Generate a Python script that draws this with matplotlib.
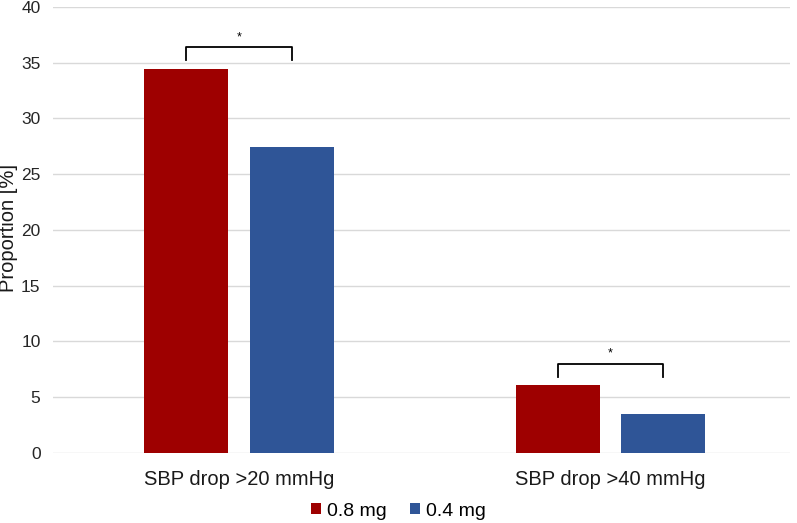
import matplotlib
matplotlib.use("Agg")
import matplotlib.pyplot as plt
import numpy as np

plt.rcParams["font.family"] = ["Liberation Sans", "DejaVu Sans"]

categories = ["SBP drop >20 mmHg", "SBP drop >40 mmHg"]
series_names = ["0.8 mg", "0.4 mg"]
values_08 = [34.45, 6.05]
values_04 = [27.4, 3.45]
y_ticks = [0, 5, 10, 15, 20, 25, 30, 35, 40]
# significance brackets: (category index, bracket top, leg bottom)
brackets = [(0, 36.4, 35.2), (1, 8.0, 6.8)]

red = "#9E0000"
blue = "#2F5597"

fig = plt.figure(figsize=(7.97, 5.23), dpi=100)
ax = fig.add_axes([0.0665, 0.134, 0.925, 0.853])

x = np.arange(len(categories))
width = 0.226
offset = 0.142
ax.bar(x - offset, values_08, width, color=red, label=series_names[0], zorder=3)
ax.bar(x + offset, values_04, width, color=blue, label=series_names[1], zorder=3)

for idx, top, bottom in brackets:
    x0 = idx - offset
    x1 = idx + offset
    ax.plot([x0, x0, x1, x1], [bottom, top, top, bottom], color="black", lw=1.3, zorder=4)
    ax.text(idx, top + 0.35, "*", ha="center", va="bottom", fontsize=9)

ax.set_xlim(-0.5, 1.483)
ax.set_ylim(0, 40)
ax.set_yticks(y_ticks)
ax.set_xticks(x)
ax.set_xticklabels(categories, fontsize=14.5, color="#1a1a1a")
ax.tick_params(axis="y", labelsize=12.5, colors="#262626", length=0, pad=9)
ax.tick_params(axis="x", length=0, pad=12)
ax.grid(axis="y", color="#D9D9D9", lw=1.0, zorder=0)
for side in ["top", "right", "left", "bottom"]:
    ax.spines[side].set_visible(False)
fig.text(9 / 797, 1 - 228 / 523, "Proportion [%]", rotation=90, ha="center",
         va="center", fontsize=14.5, color="#1a1a1a")

handles, labels = ax.get_legend_handles_labels()
fig.legend(handles, labels, loc="center", bbox_to_anchor=(0.5, 1 - 511 / 523), ncol=2,
           frameon=False, fontsize=14, handlelength=0.5, handleheight=0.5,
           handletextpad=0.3, columnspacing=1.2)

fig.savefig("out.png", dpi=100)
